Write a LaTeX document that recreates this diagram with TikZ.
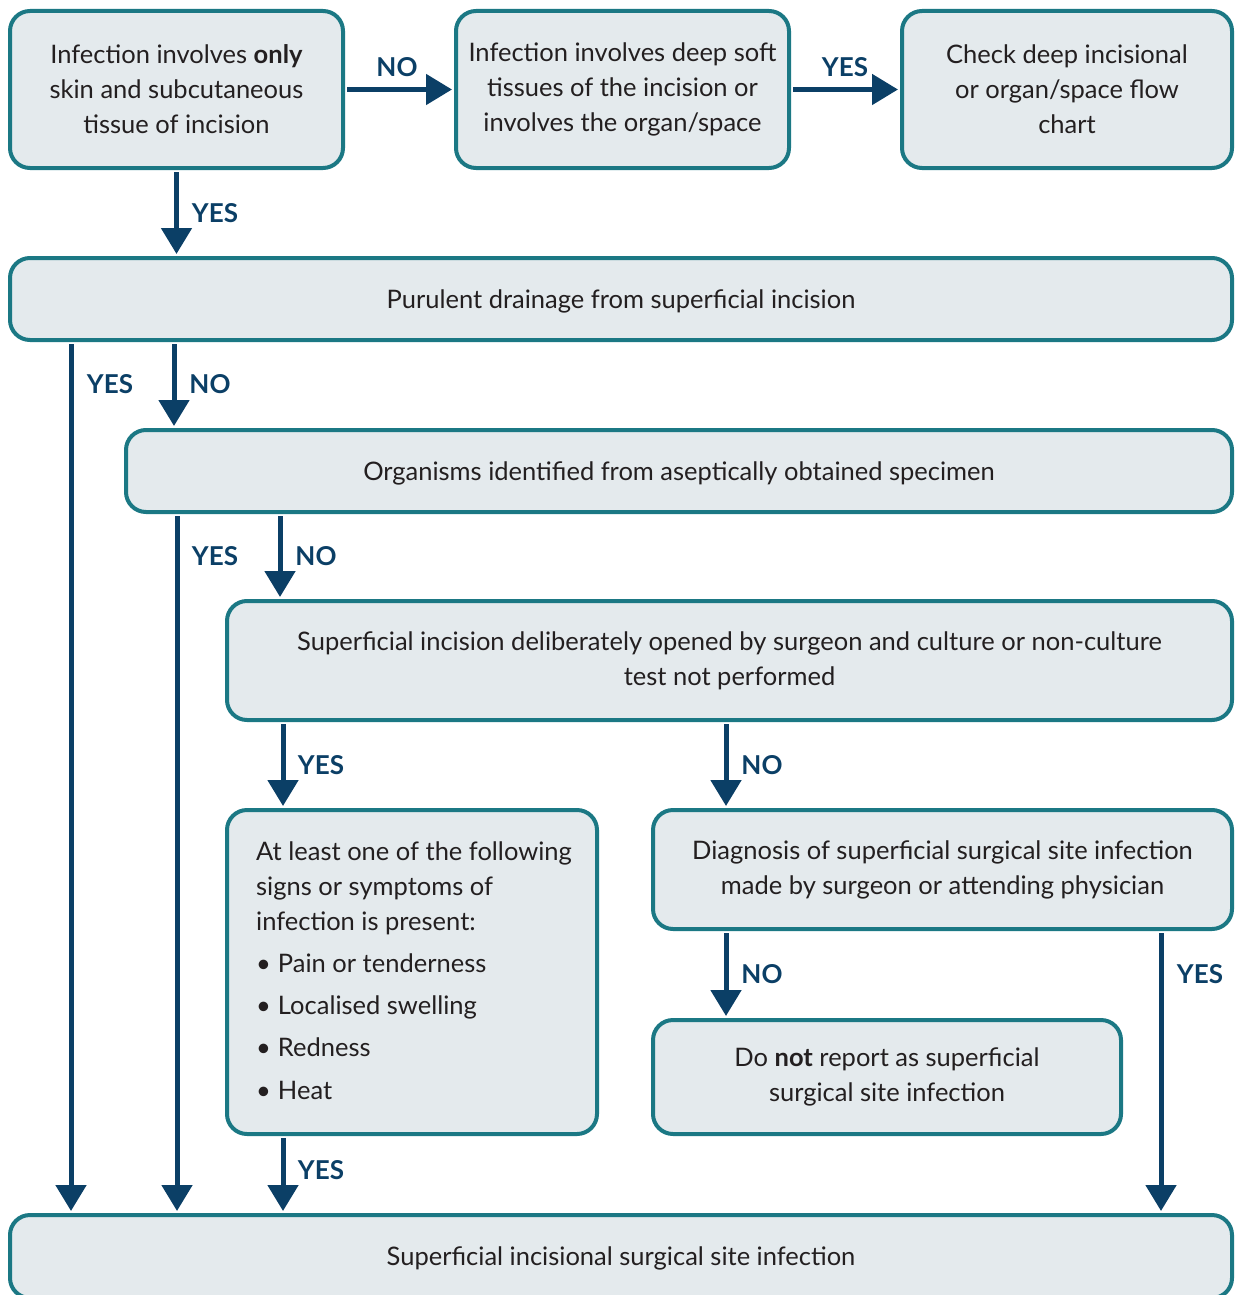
\documentclass[tikz,border=0pt]{standalone}
\usepackage{fontspec}
\setmainfont{Lato}
\usetikzlibrary{arrows.meta}
\definecolor{boxline}{HTML}{1B7884}
\definecolor{boxfill}{HTML}{E4EAED}
\definecolor{flow}{HTML}{0B3F66}
\definecolor{ink}{HTML}{231F20}
\begin{document}
\begin{tikzpicture}[x=1pt,y=-1pt,
  box/.style={draw=boxline, fill=boxfill, line width=4pt, rounded corners=20pt,
    inner sep=0pt, text=ink, font=\fontsize{25.5}{35}\selectfont, align=center},
  oneline/.style={text depth=0pt},
  body/.style={inner sep=0pt, text=ink, font=\fontsize{25.5}{35}\selectfont},
  arr/.style={draw=flow, line width=5pt, shorten <=2pt, shorten >=2pt,
    -{Triangle[width=30pt,length=26pt]}},
  lab/.style={text=flow, inner sep=0pt, font=\fontsize{26}{28}\selectfont\bfseries}]
\useasboundingbox (0,0) rectangle (1235,1295);
\clip (0,0) rectangle (1235,1295);

% decision boxes
\node[box, minimum width=333pt, minimum height=157pt] (b1) at (176.5,89.5)
  {Infection involves \textbf{only}\\skin and subcutaneous\\tissue of incision};
\node[box, minimum width=333pt, minimum height=157pt] (b2) at (622.5,89.5)
  {Infection involves deep soft\\tissues of the incision or\\involves the organ/space};
\node[box, minimum width=330pt, minimum height=157pt] (b3) at (1067,89.5)
  {Check deep incisional\\or organ/space flow\\chart};
\node[box, oneline, minimum width=1222pt, minimum height=82pt] (b4) at (621,299)
  {Purulent drainage from superficial incision};
\node[box, oneline, minimum width=1106pt, minimum height=82pt] (b5) at (679,471)
  {Organisms identified from aseptically obtained specimen};
\node[box, minimum width=1005pt, minimum height=119pt] (b6) at (729.5,660.5)
  {Superficial incision deliberately opened by surgeon and culture or non-culture\\test not performed};
\node[box, minimum width=370pt, minimum height=324pt] (b7) at (412,972) {};
\node[box, minimum width=579pt, minimum height=119pt] (b8) at (942.5,869.5)
  {Diagnosis of superficial surgical site infection\\made by surgeon or attending physician};
\node[box, minimum width=468pt, minimum height=114pt] (b9) at (887,1077)
  {Do \textbf{not} report as superficial\\surgical site infection};
\node[box, oneline, minimum width=1222pt, minimum height=83pt] (b10) at (621,1256.5)
  {Superficial incisional surgical site infection};

% list of signs inside the left box
\node[body, anchor=base west] (t1) at (256,860) {At least one of the following};
\node[body, anchor=base west] (t2) at (256,895) {signs or symptoms of};
\node[body, anchor=base west] (t3) at (256,930) {infection is present:};
\foreach \name/\txt/\y in {s1/Pain or tenderness/972, s2/Localised swelling/1014,
                           s3/Redness/1056, s4/Heat/1099}{
  \node[body, anchor=base west] (\name) at (256,\y) {\textbullet\hspace{7pt}\txt};
}

% columns of the vertical connectors
\coordinate (cA) at (71,0);
\coordinate (cB) at (174,0);
\coordinate (cC) at (177,0);
\coordinate (cD) at (280,0);
\coordinate (cE) at (283,0);
\coordinate (cF) at (726,0);
\coordinate (cG) at (1161,0);

% connectors
\draw[arr] (b1.east) -- (b2.west);
\draw[arr] (b2.east) -- (b3.west);
\draw[arr] (b1.south) -- (b4.north -| b1.south);
\draw[arr] (b4.south -| cA) -- (b10.north -| cA);
\draw[arr] (b4.south -| cB) -- (b5.north -| cB);
\draw[arr] (b5.south -| cC) -- (b10.north -| cC);
\draw[arr] (b5.south -| cD) -- (b6.north -| cD);
\draw[arr] (b6.south -| cE) -- (b7.north -| cE);
\draw[arr] (b6.south -| cF) -- (b8.north -| cF);
\draw[arr] (b8.south -| cF) -- (b9.north -| cF);
\draw[arr] (b8.south -| cG) -- (b10.north -| cG);
\draw[arr] (b7.south -| cE) -- (b10.north -| cE);

% connector labels
\node[lab] (l1) at (397,67) {NO};
\node[lab] (l2) at (845,67) {YES};
\node[lab] (l3) at (215,213) {YES};
\node[lab] (l4) at (110,384) {YES};
\node[lab] (l5) at (210,384) {NO};
\node[lab] (l6) at (215,556) {YES};
\node[lab] (l7) at (316,556) {NO};
\node[lab] (l8) at (321,765) {YES};
\node[lab] (l9) at (762,765) {NO};
\node[lab] (l10) at (762,974) {NO};
\node[lab] (l11) at (1200,974) {YES};
\node[lab] (l12) at (321,1170) {YES};
\end{tikzpicture}
\end{document}
